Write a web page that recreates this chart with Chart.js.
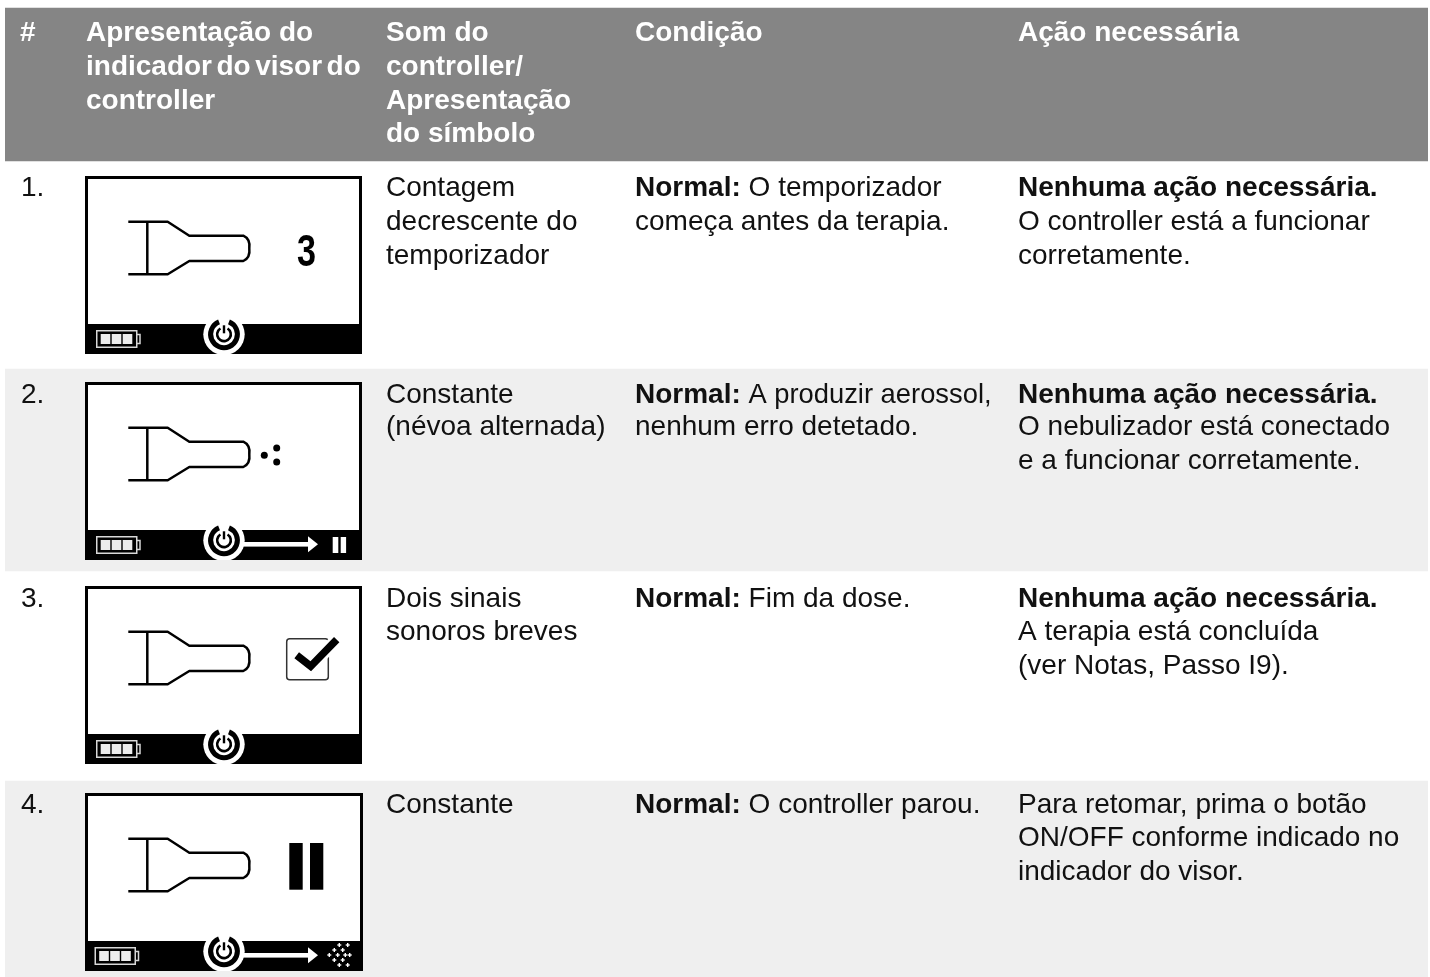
<!DOCTYPE html>
<html lang="pt">
<head>
<meta charset="utf-8">
<title>Indicadores do visor do controller</title>
<style>
html,body{margin:0;padding:0;background:#fff;overflow:hidden}
canvas{display:block}
</style>
<script src="https://cdn.jsdelivr.net/npm/chart.js@4/dist/chart.umd.min.js"></script>
</head>
<body>
<div style="width:1430px;height:977px"><canvas id="c" width="1430" height="977"></canvas></div>
<script>
const rowNumbers = ['1.', '2.', '3.', '4.'];
const headerNumber = ['#'];
const headerDisplay = ['Apresentação do', 'indicador do visor do', 'controller'];
const headerSound = ['Som do', 'controller/', 'Apresentação', 'do símbolo'];
const headerCondition = ['Condição'];
const headerAction = ['Ação necessária'];
const soundText = [
  ['Contagem', 'decrescente do', 'temporizador'],
  ['Constante', '(névoa alternada)'],
  ['Dois sinais', 'sonoros breves'],
  ['Constante']
];
const conditionText = [
  ['**Normal:** O temporizador', 'começa antes da terapia.'],
  ['**Normal:** A produzir aerossol,', 'nenhum erro detetado.'],
  ['**Normal:** Fim da dose.'],
  ['**Normal:** O controller parou.']
];
const actionText = [
  ['**Nenhuma ação necessária.**', 'O controller está a funcionar', 'corretamente.'],
  ['**Nenhuma ação necessária.**', 'O nebulizador está conectado', 'e a funcionar corretamente.'],
  ['**Nenhuma ação necessária.**', 'A terapia está concluída', '(ver Notas, Passo I9).'],
  ['Para retomar, prima o botão', 'ON/OFF conforme indicado no', 'indicador do visor.']
];
const bandNames = ['Cabeçalho', 'Linha 2', 'Linha 4'];
const bandTop = [8, 369, 781];
const bandBottom = [161, 571, 977];
const bandColors = ['#858585', '#efefef', '#efefef'];

const FONT = '"Liberation Sans", Arial, sans-serif';
const SIZE = 28;
const colX = [20, 86, 386, 635, 1018];
const headerY = [33, 67, 101, 134];
const rowY = [[188, 222, 256], [395, 427, 461], [599, 632, 666], [805, 838, 872]];
const frameTop = [176, 382, 586, 793];

function drawRuns(ctx, line, x, y, color, wordSpacing, squeeze) {
  const parts = line.split('**');
  let cx = x;
  parts.forEach((p, i) => {
    if (!p) return;
    ctx.font = (i % 2 ? 'bold ' : '') + SIZE + 'px ' + FONT;
    ctx.wordSpacing = wordSpacing || '0px';
    ctx.fillStyle = color;
    const w = ctx.measureText(p).width;
    const s = (squeeze && i % 2 === 0) ? squeeze : 0;
    if (s) ctx.fillText(p, cx, y, w - s); else ctx.fillText(p, cx, y);
    cx += w - s;
  });
  ctx.wordSpacing = '0px';
}

function drawPower(ctx, cx, cy) {
  ctx.fillStyle = '#fff';
  ctx.beginPath(); ctx.arc(cx, cy, 20.7, 0, Math.PI * 2); ctx.fill();
  ctx.strokeStyle = '#000';
  ctx.lineWidth = 5;
  const top = -Math.PI / 2;
  ctx.beginPath(); ctx.arc(cx, cy, 13.4, top + 0.38, top - 0.38 + Math.PI * 2); ctx.stroke();
  ctx.lineWidth = 2.6;
  ctx.beginPath(); ctx.arc(cx, cy, 6.8, top + 0.55, top - 0.55 + Math.PI * 2); ctx.stroke();
  ctx.fillStyle = '#000';
  ctx.fillRect(cx - 1.2, cy - 9, 2.4, 8);
}

function drawBattery(ctx, x, y) {
  ctx.strokeStyle = '#d8d8d8';
  ctx.lineWidth = 1.5;
  ctx.beginPath();
  ctx.rect(x + .75, y + .75, 40, 16.5);
  ctx.moveTo(x + 41, y + 4.5); ctx.lineTo(x + 44, y + 4.5); ctx.lineTo(x + 44, y + 13.5); ctx.lineTo(x + 41, y + 13.5);
  ctx.stroke();
  ctx.fillStyle = '#ececec';
  [4.7, 15.7, 26.7].forEach(d => ctx.fillRect(x + d, y + 4, 9.6, 10));
}

function drawNebulizer(ctx, top) {
  ctx.strokeStyle = '#000';
  ctx.lineWidth = 2.5;
  ctx.lineJoin = 'round';
  ctx.beginPath();
  ctx.moveTo(128.3, top + 45.7);
  ctx.lineTo(167.7, top + 45.7);
  ctx.lineTo(189.3, top + 59.7);
  ctx.lineTo(243.3, top + 59.7);
  ctx.quadraticCurveTo(250.5, top + 63, 249.3, top + 72.3);
  ctx.quadraticCurveTo(250.5, top + 81.5, 243.3, top + 85);
  ctx.lineTo(189.3, top + 85);
  ctx.lineTo(167.7, top + 98.3);
  ctx.lineTo(128.3, top + 98.3);
  ctx.moveTo(147.3, top + 45.7);
  ctx.lineTo(147.3, top + 98.3);
  ctx.stroke();
}

function drawArrow(ctx, top) {
  const y = top + 162.3;
  ctx.fillStyle = '#fff';
  ctx.fillRect(240, y - 2.3, 70, 4.6);
  ctx.beginPath();
  ctx.moveTo(308, y - 8); ctx.lineTo(318, y); ctx.lineTo(308, y + 8); ctx.closePath(); ctx.fill();
}

function drawFrame(ctx, i) {
  const top = frameTop[i];
  const right = i === 3 ? 363 : 362;
  const h = 178;
  ctx.save();
  ctx.beginPath(); ctx.rect(85, top, right - 85, h); ctx.clip();
  ctx.fillStyle = '#fff'; ctx.fillRect(85, top, right - 85, h);
  ctx.strokeStyle = '#000'; ctx.lineWidth = 3;
  ctx.strokeRect(86.5, top + 1.5, right - 88, h);
  ctx.fillStyle = '#000';
  ctx.fillRect(85, top + 148, right - 85, h - 148);
  drawBattery(ctx, i === 3 ? 94.5 : 96, top + 154);
  if (i === 1 || i === 3) drawArrow(ctx, top);
  drawPower(ctx, 224, top + 158.3);
  drawNebulizer(ctx, top);
  if (i === 0) {
    ctx.fillStyle = '#000';
    ctx.font = 'bold 44px "Liberation Sans Narrow", ' + FONT;
    ctx.textBaseline = 'alphabetic';
    ctx.fillText('3', 297, top + 89.5, 19);
  }
  if (i === 1) {
    ctx.fillStyle = '#000';
    [[264.3, 73.3], [276.7, 66], [276.7, 80]].forEach(p => {
      ctx.beginPath(); ctx.arc(p[0], top + p[1], 3.5, 0, Math.PI * 2); ctx.fill();
    });
    ctx.fillStyle = '#fff';
    ctx.fillRect(332.7, top + 155, 5.6, 16);
    ctx.fillRect(340.7, top + 155, 5.4, 16);
  }
  if (i === 2) {
    ctx.strokeStyle = '#333'; ctx.lineWidth = 1.5;
    ctx.beginPath(); ctx.roundRect(286.7, top + 52.7, 41.6, 41, 3); ctx.stroke();
    const line = () => { ctx.beginPath(); ctx.moveTo(296.7, top + 69.3); ctx.lineTo(310.7, top + 80.3); ctx.lineTo(336.7, top + 53.7); };
    ctx.lineCap = 'butt'; ctx.lineJoin = 'miter';
    ctx.strokeStyle = '#fff'; ctx.lineWidth = 13; line(); ctx.stroke();
    ctx.strokeStyle = '#000'; ctx.lineWidth = 7.5; line(); ctx.stroke();
  }
  if (i === 3) {
    ctx.fillStyle = '#000';
    ctx.fillRect(289.3, top + 50, 13.4, 46.7);
    ctx.fillRect(310, top + 50, 13.3, 46.7);
    ctx.fillStyle = '#fff';
    [[339.3, 945], [347.7, 945], [334.3, 950], [342.7, 950], [329.3, 955], [337.7, 955], [345.3, 955], [349.7, 955],
     [334.3, 960], [342.7, 960], [339.3, 965], [347.7, 965]].forEach(p => {
      ctx.fillRect(p[0] - 2, p[1] - .7, 4, 1.4);
      ctx.fillRect(p[0] - .7, p[1] - 2, 1.4, 4);
    });
  }
  ctx.restore();
}

const tablePlugin = {
  id: 'tableText',
  afterDatasetsDraw(chart) {
    const ctx = chart.ctx;
    ctx.save();
    ctx.textBaseline = 'middle';
    ctx.textAlign = 'left';
    [headerNumber, headerDisplay, headerSound, headerCondition, headerAction].forEach((lines, c) => {
      lines.forEach((t, k) => drawRuns(ctx, '**' + t + '**', colX[c], headerY[k], '#fff', t === headerDisplay[1] ? '-3.3px' : '0px'));
    });
    rowNumbers.forEach((n, i) => {
      const ys = rowY[i];
      ctx.textBaseline = 'middle';
      drawRuns(ctx, n, colX[0] + 1, ys[0], '#111');
      soundText[i].forEach((t, k) => drawRuns(ctx, t, colX[2], ys[k], '#111'));
      conditionText[i].forEach((t, k) => drawRuns(ctx, t, colX[3], ys[k], '#111', '0px', t === conditionText[1][0] ? 6 : 0));
      actionText[i].forEach((t, k) => drawRuns(ctx, t, colX[4], ys[k], '#111'));
      ctx.save();
      drawFrame(ctx, i);
      ctx.restore();
    });
    ctx.restore();
  }
};

new Chart(document.getElementById('c'), {
  type: 'bar',
  data: {
    labels: ['Tabela'],
    datasets: bandNames.map((name, i) => ({
      label: name,
      data: [[bandTop[i], bandBottom[i]]],
      backgroundColor: bandColors[i],
      borderWidth: 0,
      borderSkipped: false,
      grouped: false,
      barPercentage: 1,
      categoryPercentage: 1
    }))
  },
  options: {
    responsive: false,
    animation: false,
    layout: { padding: { left: 5, right: 2, top: 0, bottom: 0 } },
    plugins: { legend: { display: false }, title: { display: false }, tooltip: { enabled: false } },
    scales: {
      x: { display: false },
      y: { display: false, min: 0, max: 977, reverse: true }
    }
  },
  plugins: [tablePlugin]
});
</script>
</body>
</html>
